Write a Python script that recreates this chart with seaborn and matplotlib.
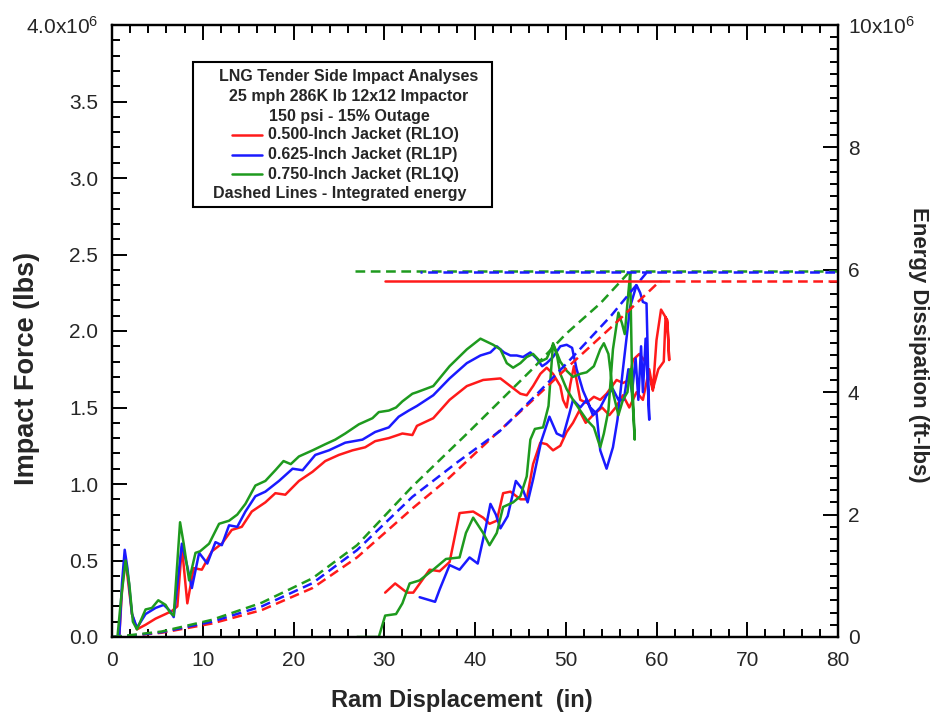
import matplotlib
matplotlib.use("Agg")
import matplotlib.pyplot as plt
from matplotlib.ticker import MultipleLocator, FuncFormatter
from matplotlib.patches import Rectangle
from matplotlib.lines import Line2D
import pandas as pd
import seaborn as sns

sns.set_style("white")
plt.rcParams["font.family"] = ["Liberation Sans", "DejaVu Sans"]
plt.rcParams["mathtext.fontset"] = "custom"
plt.rcParams["mathtext.rm"] = "Liberation Sans"
plt.rcParams["mathtext.default"] = "regular"
plt.rcParams["lines.scale_dashes"] = False
plt.rcParams["lines.solid_joinstyle"] = "round"
plt.rcParams["lines.solid_capstyle"] = "round"

# ---- impact force (millions of lbs) vs ram displacement (in) ----
# loading path (displacement increasing) then rebound path (displacement decreasing)
red_load_x = [0, 0.8, 1.1, 1.4, 1.7, 2.2, 2.75, 3.7, 4.8, 5.9,
              6.6, 7.2, 7.7, 8.3, 9.0, 9.9, 11.0, 12.1, 13.2, 14.3,
              15.4, 16.9, 18.0, 19.1, 20.6, 22.1, 23.5, 25.0, 26.5, 27.9,
              29.0, 30.5, 32.0, 33.1, 33.6, 35.4, 37.2, 39.1, 40.9, 42.8,
              43.9, 45.0, 45.7, 46.4, 47.2, 47.9, 48.6, 49.4, 49.7, 50.1,
              50.5, 50.9, 51.6, 52.3, 53.1, 53.8, 54.5, 55.6, 56.3, 57.0,
              57.4, 58.1, 58.9, 59.6, 60.0, 60.5, 60.9, 61.2, 61.4]
red_load_f = [0, 0.0, 0.30, 0.50, 0.40, 0.15, 0.05, 0.08, 0.12, 0.15,
              0.17, 0.20, 0.59, 0.22, 0.45, 0.44, 0.56, 0.61, 0.70, 0.72,
              0.82, 0.88, 0.94, 0.93, 1.02, 1.08, 1.15, 1.19, 1.22, 1.24,
              1.28, 1.30, 1.33, 1.32, 1.38, 1.43, 1.55, 1.64, 1.68, 1.69,
              1.64, 1.59, 1.58, 1.64, 1.72, 1.76, 1.72, 1.64, 1.55, 1.50,
              1.65, 1.77, 1.55, 1.53, 1.57, 1.55, 1.59, 1.68, 1.66, 1.68,
              1.81, 1.85, 1.79, 1.61, 1.94, 2.14, 2.10, 2.07, 1.81]
red_unload_x = [61.2, 61.0, 60.8, 60.2, 59.6, 59.2, 58.5, 57.8, 57.0, 56.3,
                55.5, 54.8, 54.0, 53.0, 52.2, 51.5, 50.8, 50.1, 49.4, 48.6,
                47.9, 47.2, 46.4, 45.7, 45.0, 43.9, 43.1, 42.4, 41.6, 40.9,
                39.8, 38.3, 37.2, 36.1, 35.0, 33.2, 32.5, 31.2, 30.1]
red_unload_f = [2.05, 2.09, 1.80, 1.75, 1.62, 1.75, 1.55, 1.60, 1.50, 1.58,
                1.50, 1.45, 1.50, 1.45, 1.40, 1.48, 1.40, 1.34, 1.25, 1.22,
                1.26, 1.27, 1.13, 0.90, 0.90, 0.95, 0.94, 0.76, 0.74, 0.78,
                0.82, 0.81, 0.49, 0.43, 0.44, 0.29, 0.29, 0.35, 0.29]

blue_load_x = [0, 0.8, 1.1, 1.4, 1.7, 2.2, 2.75, 3.7, 4.8, 5.7,
               6.4, 6.8, 7.7, 8.3, 8.8, 9.6, 10.5, 11.4, 12.1, 12.9,
               13.8, 14.7, 15.8, 16.9, 18.4, 19.9, 21.0, 22.4, 23.9, 25.7,
               27.6, 29.0, 30.5, 31.6, 32.7, 33.6, 35.4, 37.2, 39.1, 40.6,
               41.7, 42.4, 43.2, 43.9, 44.6, 45.3, 46.1, 46.8, 47.4, 47.9,
               48.6, 49.4, 50.1, 50.7, 51.2, 51.9, 52.7, 53.4, 53.8, 54.5,
               55.2, 55.7, 56.3, 57.1, 57.8, 58.2, 58.5, 58.9, 59.0, 59.2]
blue_load_f = [0, 0.0, 0.35, 0.57, 0.45, 0.15, 0.06, 0.15, 0.19, 0.21,
               0.17, 0.13, 0.61, 0.46, 0.32, 0.55, 0.48, 0.62, 0.60, 0.73,
               0.72, 0.82, 0.92, 0.95, 1.02, 1.10, 1.09, 1.19, 1.22, 1.27,
               1.29, 1.34, 1.37, 1.44, 1.48, 1.51, 1.58, 1.69, 1.79, 1.84,
               1.86, 1.90, 1.86, 1.84, 1.84, 1.83, 1.86, 1.82, 1.77, 1.79,
               1.83, 1.90, 1.91, 1.89, 1.75, 1.61, 1.50, 1.46, 1.22, 1.10,
               1.24, 1.42, 1.75, 2.16, 2.30, 2.25, 2.19, 2.18, 1.94, 1.42]
blue_unload_x = [59.0, 58.8, 58.5, 58.3, 58.0, 57.7, 57.3, 56.9, 56.4, 55.8,
                 55.2, 54.5, 53.8, 53.0, 52.3, 51.6, 50.8, 50.4, 49.7, 49.0,
                 48.2, 47.3, 46.4, 45.8, 45.3, 44.5, 43.6, 42.8, 42.3, 41.7,
                 41.2, 40.3, 39.4, 38.3, 37.2, 36.1, 35.6, 33.9]
blue_unload_f = [1.70, 1.95, 1.60, 1.90, 1.55, 1.82, 1.60, 1.75, 1.55, 1.55,
                 1.62, 1.58, 1.50, 1.45, 1.55, 1.50, 1.55, 1.46, 1.31, 1.33,
                 1.44, 1.28, 1.03, 0.88, 0.96, 1.02, 0.79, 0.71, 0.80, 0.87,
                 0.72, 0.48, 0.52, 0.44, 0.47, 0.31, 0.23, 0.26]

green_load_x = [0, 0.6, 1.0, 1.5, 1.9, 2.3, 2.75, 3.7, 4.4, 5.1,
                5.9, 6.4, 6.8, 7.5, 7.9, 8.5, 9.2, 9.7, 10.7, 11.8,
                12.9, 13.8, 14.7, 15.8, 16.9, 18.0, 18.9, 19.7, 20.6, 22.1,
                23.5, 24.6, 25.7, 27.2, 28.7, 29.4, 30.5, 31.3, 32.0, 33.1,
                33.6, 35.4, 37.2, 39.1, 40.6, 41.3, 42.0, 42.8, 43.5, 44.2,
                45.0, 45.7, 46.4, 47.2, 47.9, 48.6, 49.0, 49.4, 50.1, 50.8,
                51.6, 52.3, 53.1, 53.8, 54.2, 54.7, 55.2, 55.8, 56.2, 56.5,
                56.9, 57.1, 57.3, 57.6]
green_load_f = [0, 0.0, 0.25, 0.50, 0.35, 0.10, 0.05, 0.18, 0.19, 0.24,
                0.21, 0.16, 0.14, 0.75, 0.61, 0.37, 0.55, 0.56, 0.61, 0.74,
                0.76, 0.80, 0.87, 0.99, 1.02, 1.09, 1.15, 1.13, 1.18, 1.22,
                1.26, 1.29, 1.33, 1.39, 1.43, 1.47, 1.48, 1.50, 1.54, 1.59,
                1.60, 1.64, 1.77, 1.88, 1.95, 1.93, 1.91, 1.88, 1.79, 1.76,
                1.79, 1.83, 1.85, 1.80, 1.82, 1.91, 1.85, 1.72, 1.62, 1.55,
                1.48, 1.42, 1.37, 1.24, 1.33, 1.48, 1.88, 2.12, 2.05, 1.98,
                2.25, 2.38, 1.72, 1.29]
green_unload_x = [57.4, 57.1, 56.8, 56.3, 55.8, 55.2, 54.7, 54.2, 53.8, 53.1,
                  52.3, 51.6, 50.8, 50.1, 49.4, 48.6, 48.1, 47.5, 46.6, 46.1,
                  45.7, 45.0, 44.2, 43.1, 42.4, 41.6, 40.9, 39.8, 39.0, 38.3,
                  36.8, 35.4, 33.9, 32.8, 32.0, 31.3, 30.1, 29.4, 27.0]
green_unload_f = [1.50, 1.75, 1.60, 1.55, 1.45, 1.60, 1.85, 1.92, 1.88, 1.77,
                  1.73, 1.72, 1.70, 1.74, 1.80, 1.92, 1.51, 1.37, 1.36, 1.29,
                  1.05, 0.92, 0.88, 0.85, 0.68, 0.60, 0.68, 0.78, 0.68, 0.52,
                  0.51, 0.44, 0.37, 0.35, 0.22, 0.15, 0.14, 0.0, 0.0]

# ---- integrated energy (millions of ft-lbs) ----
red_energy_x = [0, 2, 5.5, 11, 16.5, 22.1, 27, 33.1, 37, 41.6, 46, 50, 55, 60.4]
red_energy_e = [0, 0.02, 0.07, 0.22, 0.44, 0.80, 1.30, 2.10, 2.58, 3.22, 3.82, 4.38, 5.06, 5.82]
blue_energy_x = [0, 2, 5.5, 11, 16.5, 22.1, 27, 33.1, 38, 42.7, 46.5, 50.1, 55, 59.0]
blue_energy_e = [0, 0.02, 0.08, 0.25, 0.50, 0.88, 1.42, 2.29, 2.85, 3.36, 3.92, 4.47, 5.25, 5.97]
green_energy_x = [0, 2, 5.5, 11, 16.5, 22.1, 27, 33.1, 39.1, 46.4, 50, 53.8, 57.1]
green_energy_e = [0, 0.03, 0.09, 0.28, 0.56, 0.96, 1.50, 2.46, 3.32, 4.39, 4.95, 5.45, 5.98]
# energy held during rebound: (final energy, displacement at end of rebound)
red_final = (5.82, 30.1)
blue_final = (5.97, 33.9)
green_final = (5.98, 26.8)

labels = ["0.500-Inch Jacket (RL1O)", "0.625-Inch Jacket (RL1P)", "0.750-Inch Jacket (RL1Q)"]
colors = ["#ff1a1a", "#1a1aff", "#1e9a1e"]
title_lines = ["LNG Tender Side Impact Analyses",
               "25 mph 286K lb 12x12 Impactor",
               "150 psi - 15% Outage"]
note_line = "Dashed Lines - Integrated energy"

W, H = 930, 723
fig = plt.figure(figsize=(W / 100, H / 100), dpi=100)
ax = fig.add_axes([112 / W, 86 / H, 726 / W, 612 / H])
ax2 = ax.twinx()

LW = 1.8
DASH = (0, (7, 4))
series = [
    (red_load_x, red_load_f, red_unload_x, red_unload_f, red_energy_x, red_energy_e),
    (blue_load_x, blue_load_f, blue_unload_x, blue_unload_f, blue_energy_x, blue_energy_e),
    (green_load_x, green_load_f, green_unload_x, green_unload_f, green_energy_x, green_energy_e),
]
for (lx, lf, ux, uf, ex, ee), c in zip(series, colors):
    path = pd.DataFrame({"disp": lx + ux, "force": [v * 1e6 for v in lf + uf]})
    sns.lineplot(data=path, x="disp", y="force", ax=ax, color=c, lw=LW,
                 sort=False, estimator=None, legend=False)
    en = pd.DataFrame({"disp": ex, "energy": [v * 1e6 for v in ee]})
    sns.lineplot(data=en, x="disp", y="energy", ax=ax2, color=c, lw=LW,
                 sort=False, estimator=None, legend=False, linestyle=DASH)

# rebound (energy held) and final-energy extension lines
e_r, x_r = red_final
sns.lineplot(x=[x_r, red_energy_x[-1]], y=[e_r * 1e6] * 2, ax=ax2, color=colors[0], lw=LW,
             sort=False, estimator=None)
sns.lineplot(x=[red_energy_x[-1], 80], y=[e_r * 1e6] * 2, ax=ax2, color=colors[0], lw=LW,
             sort=False, estimator=None, linestyle=DASH)
e_g, x_g = green_final
sns.lineplot(x=[x_g, 80], y=[e_g * 1e6] * 2, ax=ax2, color=colors[2], lw=LW,
             sort=False, estimator=None, linestyle=DASH)
e_b, x_b = blue_final
sns.lineplot(x=[x_b, 80], y=[e_b * 1e6] * 2, ax=ax2, color=colors[1], lw=LW,
             sort=False, estimator=None, linestyle=(5.5, (7, 4)))

# axes, ticks
ax.set_xlim(0, 80)
ax.set_ylim(0, 4e6)
ax2.set_ylim(0, 10e6)
ax.set_xlabel("")
ax.set_ylabel("")
ax2.set_ylabel("")
ax.xaxis.set_major_locator(MultipleLocator(10))
ax.xaxis.set_minor_locator(MultipleLocator(2))
ax.yaxis.set_major_locator(MultipleLocator(0.5e6))
ax.yaxis.set_minor_locator(MultipleLocator(0.1e6))
ax2.yaxis.set_major_locator(MultipleLocator(2e6))
ax2.yaxis.set_minor_locator(MultipleLocator(0.2e6))
ax.xaxis.set_major_formatter(FuncFormatter(lambda v, p: f"{v:.0f}"))
ax.yaxis.set_major_formatter(FuncFormatter(
    lambda v, p: "4.0x10$^{6}$" if abs(v - 4e6) < 1 else f"{v / 1e6:.1f}"))
ax2.yaxis.set_major_formatter(FuncFormatter(
    lambda v, p: "10x10$^{6}$" if abs(v - 10e6) < 1 else f"{v / 1e6:.0f}"))

ax.tick_params(axis="x", which="both", direction="in", top=True, bottom=True,
               width=1.4, color="black", labelsize=15, pad=10)
ax.tick_params(axis="y", which="both", direction="in", left=True, right=False,
               width=1.4, color="black", labelsize=15, pad=10)
ax2.tick_params(axis="y", which="both", direction="in", right=True, left=False,
                width=1.4, color="black", labelsize=15, pad=7)
for a in (ax, ax2):
    a.tick_params(which="major", length=11)
    a.tick_params(which="minor", length=6)
    for s in a.spines.values():
        s.set_visible(True)
        s.set_linewidth(1.6)
        s.set_color("black")

# axis titles
fig.text(27 / W, 1 - 368 / H, "Impact Force (lbs)", rotation=90, ha="center", va="center",
         fontsize=19.5, fontweight="bold")
fig.text(462 / W, 1 - 700 / H, "Ram Displacement  (in)", ha="center", va="center",
         fontsize=17, fontweight="bold")
fig.text(918 / W, 1 - 345 / H, "Energy Dissipation (ft-lbs)", rotation=270, ha="center",
         va="center", fontsize=16, fontweight="bold")

# key box
def fx(px):
    return px / W


def fy(py):
    return 1 - py / H


fig.patches.append(Rectangle((fx(193), fy(207)), fx(492) - fx(193), fy(62) - fy(207),
                             transform=fig.transFigure, facecolor="white", edgecolor="black",
                             lw=1.5, zorder=4))
row_y = [77, 96.5, 116, 135, 154.5, 174, 193.5]
for ty, t in zip(row_y[:3], title_lines):
    fig.text(fx(349), fy(ty), t, ha="center", va="center", fontsize=11.5,
             fontweight="bold", zorder=5)
for ty, t, c in zip(row_y[3:6], labels, colors):
    fig.lines.append(Line2D([fx(232), fx(262)], [fy(ty), fy(ty)], transform=fig.transFigure,
                            color=c, lw=LW, zorder=5))
    fig.text(fx(268), fy(ty), t, ha="left", va="center", fontsize=11.5,
             fontweight="bold", zorder=5)
fig.text(fx(213), fy(row_y[6]), note_line, ha="left", va="center", fontsize=11.5,
         fontweight="bold", zorder=5)

fig.savefig("out.png", dpi=100, facecolor="white")
